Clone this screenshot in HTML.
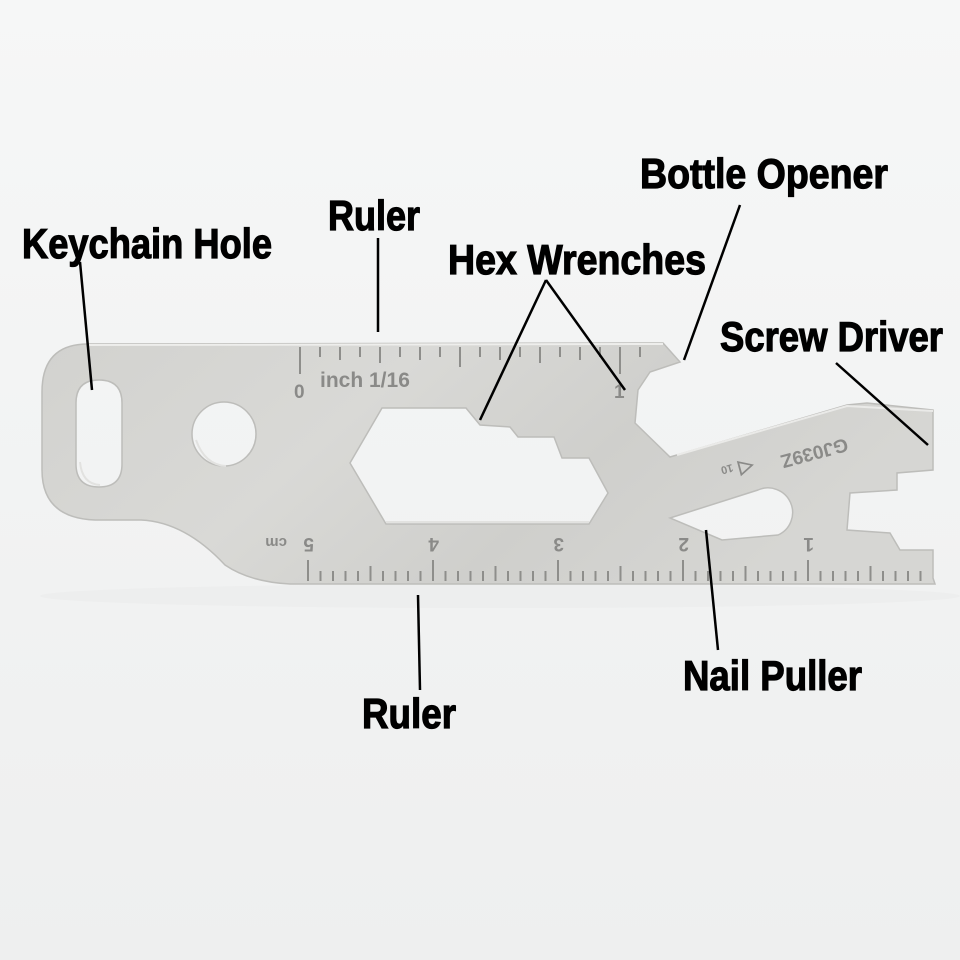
<!DOCTYPE html>
<html><head><meta charset="utf-8"><style>
html,body{margin:0;padding:0;background:#f3f4f4;}
svg{display:block}
.l{font-family:"Liberation Sans",sans-serif;font-weight:bold;font-size:42px;fill:#000;stroke:#000;stroke-width:1.2;}
.r{font-family:"Liberation Sans",sans-serif;font-weight:bold;fill:#8a8a88;}
</style></head><body>
<svg width="960" height="960" viewBox="0 0 960 960" xmlns="http://www.w3.org/2000/svg">
<defs>
<linearGradient id="bg" x1="0" y1="0" x2="0" y2="1">
<stop offset="0" stop-color="#f6f7f7"/><stop offset="1" stop-color="#eeefef"/></linearGradient>
<linearGradient id="met" x1="0" y1="0" x2="1" y2="0.3">
<stop offset="0" stop-color="#d2d2cf"/><stop offset="0.4" stop-color="#d9d9d6"/><stop offset="0.7" stop-color="#cfcfcc"/><stop offset="1" stop-color="#d6d6d3"/></linearGradient>
</defs>
<rect width="960" height="960" fill="url(#bg)"/>
<ellipse cx="500" cy="596" rx="460" ry="12" fill="#e9eaea" opacity="0.5"/>
<path fill="url(#met)" stroke="#bdbdba" stroke-width="1.5" fill-rule="evenodd" d="
M88,344 L663,343 L680,362 L650,372 L638,390 L635,423 L670,457
L847,405 L867,403 L933,410 L933,470 L897,473 L897,490 L850,493 L847,530 L890,533 L900,550 L933,550 L933,578
L935,584 L290,584 Q250,582 225,565 Q185,522 141,520 L95,520 Q42,518 42,470 L42,392 Q42,344 88,344 Z
M99,380 Q122,380 122,403 L122,464 Q122,487 99,487 Q76,487 76,464 L76,403 Q76,380 99,380 Z
M256,434 A32,32 0 1 1 192,434 A32,32 0 1 1 256,434 Z
M382,408 L466,408 L480,425 L510,427 L518,437 L554,437 L562,458 L589,458 L608,493 L589,524 L386,524 L350,463 Z
M670,518 L758,490 A22,22 0 0 1 778,535 L722,540 Z"/>
<path d="M88,345 L663,344" stroke="#eeeeec" stroke-width="2" fill="none"/>
<path d="M677,455 L847,406 L933,411" stroke="#eaeae8" stroke-width="2" fill="none"/>
<g fill="none" stroke="#e2e2e0" stroke-width="2">
<path d="M386,522 L589,522"/><path d="M80,462 Q82,484 100,485"/><path d="M196,440 Q205,465 226,466"/>
</g>
<g stroke="#8e8e8b" stroke-width="2">
<line x1="300" y1="347" x2="300" y2="374"/><line x1="320" y1="347" x2="320" y2="357"/><line x1="340" y1="347" x2="340" y2="360"/><line x1="360" y1="347" x2="360" y2="357"/><line x1="380" y1="347" x2="380" y2="363"/><line x1="400" y1="347" x2="400" y2="357"/><line x1="420" y1="347" x2="420" y2="360"/><line x1="440" y1="347" x2="440" y2="357"/><line x1="460" y1="347" x2="460" y2="367"/><line x1="480" y1="347" x2="480" y2="357"/><line x1="500" y1="347" x2="500" y2="360"/><line x1="520" y1="347" x2="520" y2="357"/><line x1="540" y1="347" x2="540" y2="363"/><line x1="560" y1="347" x2="560" y2="357"/><line x1="580" y1="347" x2="580" y2="360"/><line x1="600" y1="347" x2="600" y2="357"/><line x1="620" y1="347" x2="620" y2="374"/><line x1="640" y1="347" x2="640" y2="357"/>
</g>
<text class="r" x="294" y="398" font-size="19">0</text>
<text class="r" x="320" y="387" font-size="21">inch 1/16</text>
<text class="r" x="614" y="398" font-size="19">1</text>
<g stroke="#8e8e8b" stroke-width="2">
<line x1="308" y1="560" x2="308" y2="581"/><line x1="320.5" y1="571" x2="320.5" y2="581"/><line x1="333" y1="571" x2="333" y2="581"/><line x1="345.5" y1="571" x2="345.5" y2="581"/><line x1="358" y1="571" x2="358" y2="581"/><line x1="370.5" y1="566" x2="370.5" y2="581"/><line x1="383" y1="571" x2="383" y2="581"/><line x1="395.5" y1="571" x2="395.5" y2="581"/><line x1="408" y1="571" x2="408" y2="581"/><line x1="420.5" y1="571" x2="420.5" y2="581"/>
<line x1="433" y1="560" x2="433" y2="581"/><line x1="445.5" y1="571" x2="445.5" y2="581"/><line x1="458" y1="571" x2="458" y2="581"/><line x1="470.5" y1="571" x2="470.5" y2="581"/><line x1="483" y1="571" x2="483" y2="581"/><line x1="495.5" y1="566" x2="495.5" y2="581"/><line x1="508" y1="571" x2="508" y2="581"/><line x1="520.5" y1="571" x2="520.5" y2="581"/><line x1="533" y1="571" x2="533" y2="581"/><line x1="545.5" y1="571" x2="545.5" y2="581"/>
<line x1="558" y1="560" x2="558" y2="581"/><line x1="570.5" y1="571" x2="570.5" y2="581"/><line x1="583" y1="571" x2="583" y2="581"/><line x1="595.5" y1="571" x2="595.5" y2="581"/><line x1="608" y1="571" x2="608" y2="581"/><line x1="620.5" y1="566" x2="620.5" y2="581"/><line x1="633" y1="571" x2="633" y2="581"/><line x1="645.5" y1="571" x2="645.5" y2="581"/><line x1="658" y1="571" x2="658" y2="581"/><line x1="670.5" y1="571" x2="670.5" y2="581"/>
<line x1="683" y1="560" x2="683" y2="581"/><line x1="695.5" y1="571" x2="695.5" y2="581"/><line x1="708" y1="571" x2="708" y2="581"/><line x1="720.5" y1="571" x2="720.5" y2="581"/><line x1="733" y1="571" x2="733" y2="581"/><line x1="745.5" y1="566" x2="745.5" y2="581"/><line x1="758" y1="571" x2="758" y2="581"/><line x1="770.5" y1="571" x2="770.5" y2="581"/><line x1="783" y1="571" x2="783" y2="581"/><line x1="795.5" y1="571" x2="795.5" y2="581"/>
<line x1="808" y1="560" x2="808" y2="581"/><line x1="820.5" y1="571" x2="820.5" y2="581"/><line x1="833" y1="571" x2="833" y2="581"/><line x1="845.5" y1="571" x2="845.5" y2="581"/><line x1="858" y1="571" x2="858" y2="581"/><line x1="870.5" y1="566" x2="870.5" y2="581"/><line x1="883" y1="571" x2="883" y2="581"/><line x1="895.5" y1="571" x2="895.5" y2="581"/><line x1="908" y1="571" x2="908" y2="581"/><line x1="920.5" y1="571" x2="920.5" y2="581"/>
</g>
<g class="r" font-size="19">
<text transform="translate(314,538) rotate(180)">5</text>
<text transform="translate(287,538) rotate(180)" font-size="15">cm</text>
<text transform="translate(439,538) rotate(180)">4</text>
<text transform="translate(564,538) rotate(180)">3</text>
<text transform="translate(689,538) rotate(180)">2</text>
<text transform="translate(814,538) rotate(180)">1</text>
<text transform="translate(846,438) rotate(165)" font-size="19">GJ039Z</text>
<text transform="translate(752,460) rotate(165)" font-size="19">◁</text>
<text transform="translate(732,464) rotate(165)" font-size="11">10</text>
</g>
<g stroke="#000" stroke-width="2.5" fill="none">
<line x1="80" y1="262" x2="92" y2="390"/>
<line x1="378" y1="238" x2="378" y2="332"/>
<line x1="740" y1="205" x2="684" y2="360"/>
<line x1="546" y1="280" x2="480" y2="420"/>
<line x1="546" y1="280" x2="625" y2="390"/>
<line x1="836" y1="363" x2="928" y2="445"/>
<line x1="706" y1="530" x2="718" y2="650"/>
<line x1="418" y1="595" x2="420" y2="690"/>
</g>
<text class="l" x="22" y="258" textLength="250" lengthAdjust="spacingAndGlyphs">Keychain Hole</text>
<text class="l" x="328" y="230" textLength="92" lengthAdjust="spacingAndGlyphs">Ruler</text>
<text class="l" x="640" y="188" textLength="248" lengthAdjust="spacingAndGlyphs">Bottle Opener</text>
<text class="l" x="448" y="274" textLength="258" lengthAdjust="spacingAndGlyphs">Hex Wrenches</text>
<text class="l" x="720" y="351" textLength="223" lengthAdjust="spacingAndGlyphs">Screw Driver</text>
<text class="l" x="683" y="690" textLength="179" lengthAdjust="spacingAndGlyphs">Nail Puller</text>
<text class="l" x="362" y="728" textLength="94" lengthAdjust="spacingAndGlyphs">Ruler</text>
</svg>
</body></html>
